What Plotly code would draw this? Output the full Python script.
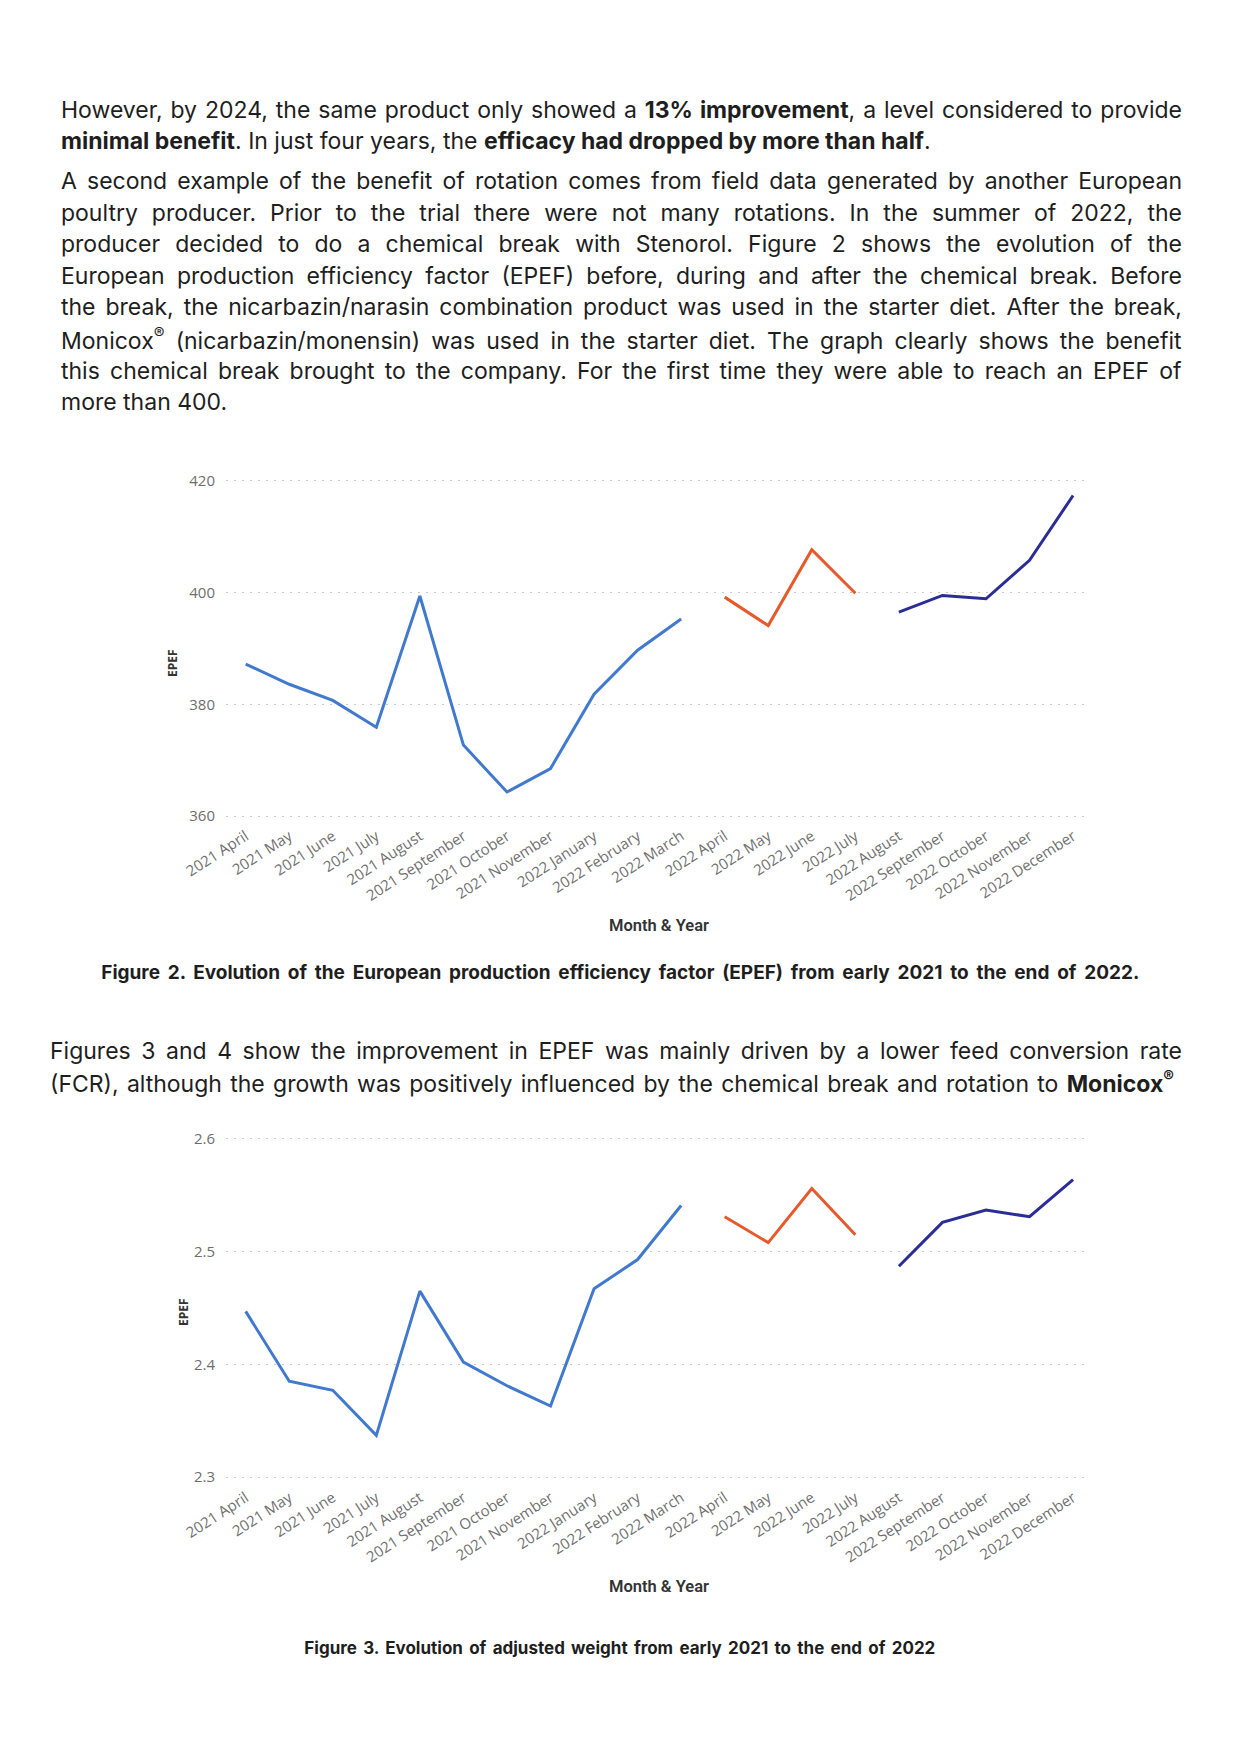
import json

import plotly.graph_objects as go

# === Data ===

MONTHS = [
    "2021 April", "2021 May", "2021 June", "2021 July", "2021 August",
    "2021 September", "2021 October", "2021 November", "2022 January",
    "2022 February", "2022 March", "2022 April", "2022 May", "2022 June",
    "2022 July", "2022 August", "2022 September", "2022 October",
    "2022 November", "2022 December",
]

# Figure 2 - EPEF
EPEF_BEFORE = [387.2, 383.6, 380.7, 375.9, 399.4, 372.7, 364.3, 368.5, 381.8, 389.7, 395.3]
EPEF_BREAK = [399.2, 394.1, 407.7, 399.9]
EPEF_AFTER = [396.5, 399.5, 398.9, 405.8, 417.4]
EPEF_TICKS = [360, 380, 400, 420]

# Figure 3 - adjusted weight
WEIGHT_BEFORE = [2.447, 2.385, 2.377, 2.337, 2.465, 2.402, 2.381, 2.363, 2.467, 2.493, 2.541]
WEIGHT_BREAK = [2.531, 2.508, 2.556, 2.515]
WEIGHT_AFTER = [2.487, 2.526, 2.537, 2.531, 2.564]
WEIGHT_TICKS = [2.3, 2.4, 2.5, 2.6]

COLORS = ["#4179CE", "#E5592B", "#2B2D97"]

W, H = 1239, 1754
BODY_FONT = "Inter, Open Sans, sans-serif"
TEXT_COLOR = "#1e1e1e"


def px(x, y):
    """Pixel position on the page -> paper coordinates."""
    return x / W, 1 - y / H


fig = go.Figure()

# Lines: the before / during / after segments are separate traces
n1, n2 = len(EPEF_BEFORE), len(EPEF_BREAK)
segments = [(MONTHS[:n1], 0), (MONTHS[n1:n1 + n2], 1), (MONTHS[n1 + n2:], 2)]

for vals, axis in [((EPEF_BEFORE, EPEF_BREAK, EPEF_AFTER), ""),
                   ((WEIGHT_BEFORE, WEIGHT_BREAK, WEIGHT_AFTER), "2")]:
    for (months, c), ys in zip(segments, vals):
        fig.add_trace(go.Scatter(
            x=months, y=ys, mode="lines",
            line=dict(color=COLORS[c], width=3),
            xaxis="x" + axis, yaxis="y" + axis,
            showlegend=False, hoverinfo="x+y",
        ))

x_dom = [226 / W, 1087 / W]
common_x = dict(
    type="category", categoryorder="array", categoryarray=MONTHS,
    range=[-0.452, 19.32], domain=x_dom, showgrid=False, showline=False,
    zeroline=False, ticks="", tickangle=-33, automargin=False,
    tickfont=dict(family="Open Sans", size=15, color="#707070"),
    ticklabelstandoff=5,
)
common_y = dict(
    showgrid=True, gridcolor="#c8c8c8", gridwidth=1, griddash="2px,6px",
    showline=False, zeroline=False, ticks="", automargin=False,
    tickfont=dict(family="Open Sans", size=15, color="#6e6e6e"),
    ticklabelstandoff=10,
)

# y ranges are padded a little so the top and bottom grid lines are drawn
fig.update_layout(
    width=W, height=H, template="none",
    margin=dict(l=0, r=0, t=0, b=0),
    paper_bgcolor="white", plot_bgcolor="white",
    showlegend=False,
    xaxis=dict(common_x, anchor="y"),
    yaxis=dict(common_y, domain=[1 - 818.8 / H, 1 - 478.2 / H], range=[359.5, 420.5],
               tickvals=EPEF_TICKS, anchor="x"),
    xaxis2=dict(common_x, anchor="y2"),
    yaxis2=dict(common_y, domain=[1 - 1480.4 / H, 1 - 1135.6 / H], range=[2.297, 2.603],
                tickvals=WEIGHT_TICKS, ticktext=[f"{t:.1f}" for t in WEIGHT_TICKS],
                anchor="x2"),
)

# === Page text (one annotation per printed line) ===
# (text, left x, centre y, justify-to width or None)
LINES = [
    ("However, by 2024, the same product only showed a <b>13% improvement</b>, "
     "a level considered to provide", 59, 110, 1121),
    ("<b>minimal benefit</b>. In just four years, the "
     "<b>efficacy had dropped by more than half</b>.", 59, 141, None),
    ("A second example of the benefit of rotation comes from field data "
     "generated by another European", 59, 181, 1121),
    ("poultry producer. Prior to the trial there were not many rotations. "
     "In the summer of 2022, the", 59, 212.6, 1121),
    ("producer decided to do a chemical break with Stenorol. Figure 2 shows "
     "the evolution of the", 59, 244.2, 1121),
    ("European production efficiency factor (EPEF) before, during and after "
     "the chemical break. Before", 59, 275.8, 1121),
    ("the break, the nicarbazin/narasin combination product was used in the "
     "starter diet. After the break,", 59, 307.4, 1121),
    ("Monicox<sup>®</sup> (nicarbazin/monensin) was used in the starter diet. "
     "The graph clearly shows the benefit", 59, 339, 1121),
    ("this chemical break brought to the company. For the first time they "
     "were able to reach an EPEF of", 59, 370.6, 1121),
    ("more than 400.", 59, 402.2, None),
    ("Figures 3 and 4 show the improvement in EPEF was mainly driven by a "
     "lower feed conversion rate", 48, 1051, 1132),
    ("(FCR), although the growth was positively influenced by the chemical "
     "break and rotation to <b>Monicox<sup>®</sup></b>", 48, 1082.4, 1124),
]

annotations = []
justify = {}

for text, x, y, width in LINES:
    ax, ay = px(x, y)
    if width:
        justify[str(len(annotations))] = width
    annotations.append(dict(
        text=text, x=ax, y=ay, xref="paper", yref="paper",
        xanchor="left", yanchor="middle", align="left", showarrow=False,
        font=dict(family=BODY_FONT, size=23, color=TEXT_COLOR),
    ))

# Figure captions (centred)
CAPTIONS = [
    ("<b>Figure 2. Evolution of the European production efficiency factor "
     "(EPEF) from early 2021 to the end of 2022.</b>", 973, 19, 1038),
    ("<b>Figure 3. Evolution of adjusted weight from early 2021 to the end "
     "of 2022</b>", 1648, 17, 631),
]
for text, y, size, width in CAPTIONS:
    justify[str(len(annotations))] = width
    annotations.append(dict(
        text=text, x=0.5, y=px(0, y)[1], xref="paper", yref="paper",
        xanchor="center", yanchor="middle", showarrow=False,
        font=dict(family=BODY_FONT, size=size, color=TEXT_COLOR),
    ))

# Axis titles of both charts
for title_y, epef_x, epef_y in [(925, 173, 663), (1586, 183, 1312)]:
    annotations.append(dict(
        text="Month & Year", x=px(659, 0)[0], y=px(0, title_y)[1],
        xref="paper", yref="paper", xanchor="center", yanchor="middle",
        showarrow=False,
        font=dict(family="Roboto", size=16.5, color="#333333", weight=600),
    ))
    annotations.append(dict(
        text="<b>EPEF</b>", x=px(epef_x, 0)[0], y=px(0, epef_y)[1],
        xref="paper", yref="paper", xanchor="center", yanchor="middle",
        textangle=-90, showarrow=False,
        font=dict(family="Open Sans", size=12, color="#333333"),
    ))

fig.update_layout(annotations=annotations)

# Spread the word gaps so the paragraph lines are justified like the print
post_script = """
document.body.style.margin = '0';
var gd = document.getElementById('{plot_id}');
var targets = %s;
gd.querySelectorAll('g.annotation').forEach(function(g) {
    var i = g.getAttribute('data-index');
    if (!(i in targets)) return;
    var t = g.querySelector('text.annotation-text');
    var n = (t.textContent.match(/ /g) || []).length;
    if (!n) return;
    var w = t.getBBox().width;
    t.style.wordSpacing = ((targets[i] - w) / n) + 'px';
});
""" % json.dumps(justify)

fig.write_html("out.html", post_script=post_script,
               config={"displayModeBar": False})
